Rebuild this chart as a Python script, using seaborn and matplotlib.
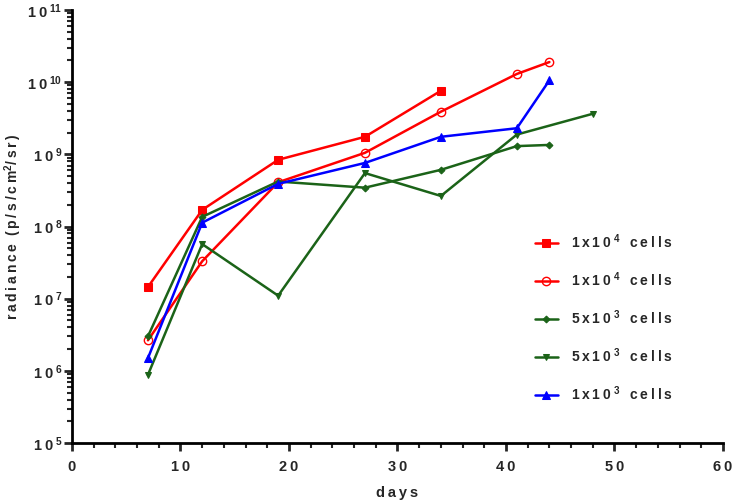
import matplotlib
matplotlib.use("Agg")
import matplotlib.pyplot as plt
import seaborn as sns
import numpy as np
import pandas as pd
from matplotlib.ticker import FixedLocator, LogLocator, NullFormatter, MultipleLocator

# ---- data ----
days_a = [7, 12, 19, 27, 34]
sq_1e4 = [1.45e7, 1.7e8, 8.4e8, 1.75e9, 7.6e9]

days_b = [7, 12, 19, 27, 34, 41, 44]
circ_1e4 = [2.65e6, 3.3e7, 4.1e8, 1.05e9, 3.9e9, 1.3e10, 1.9e10]

days_c = [7, 12, 19, 27, 34, 41, 44]
dia_5e3 = [3.0e6, 1.36e8, 4.2e8, 3.45e8, 6.1e8, 1.3e9, 1.35e9]

days_d = [7, 12, 19, 27, 34, 41, 48]
tri_5e3 = [8.8e5, 5.7e7, 1.1e7, 5.5e8, 2.65e8, 1.88e9, 3.65e9]

days_e = [7, 12, 19, 27, 34, 41, 44]
up_1e3 = [1.5e6, 1.13e8, 3.9e8, 7.6e8, 1.75e9, 2.3e9, 1.06e10]

labels = ["1x10^4 cells", "1x10^4 cells", "5x10^3 cells", "5x10^3 cells", "1x10^3 cells"]
y_ticks = [1e5, 1e6, 1e7, 1e8, 1e9, 1e10, 1e11]
x_ticks = [0, 10, 20, 30, 40, 50, 60]

sns.set_style("ticks")
plt.rcParams['font.family'] = ['Liberation Sans', 'DejaVu Sans']
plt.rcParams['mathtext.fontset'] = 'custom'
plt.rcParams['mathtext.rm'] = 'Liberation Sans:bold'
plt.rcParams['mathtext.bf'] = 'Liberation Sans:bold'
plt.rcParams['mathtext.it'] = 'Liberation Sans:bold'

TS = "\u2009"
FS = 10.5

def spaced(s):
    return TS.join(list(s))

def leg_label(s):
    base, rest = s.split("^")
    exp, tail = rest.split(" ", 1)
    return spaced(base) + TS + "${}^{" + exp + "}$" + "  " + TS + spaced(tail)

fig = plt.figure(figsize=(7.35, 5.03), dpi=100)
ax = fig.add_axes([72/735, 1 - 443/503, (723 - 72)/735, (443 - 10)/503])

red = "#FF0000"
green = "#1B6318"
blue = "#0000FF"

series = [
    (days_a, sq_1e4, red, "s", dict(markersize=6)),
    (days_b, circ_1e4, red, "o", dict(markersize=6, markerfacecolor="none", markeredgewidth=1.0)),
    (days_c, dia_5e3, green, "D", dict(markersize=3.5)),
    (days_d, tri_5e3, green, "v", dict(markersize=5)),
    (days_e, up_1e3, blue, "^", dict(markersize=5.5)),
]

for (xs, ys, c, m, kw), lab in zip(series, labels):
    df = pd.DataFrame({"days": xs, "radiance": ys})
    sns.lineplot(data=df, x="days", y="radiance", ax=ax, color=c, marker=m,
                 linewidth=1.8, markeredgecolor=c, label=leg_label(lab), **kw)

ax.set_yscale("log")
ax.set_ylim(1e5, 1e11)
ax.set_xlim(0, 60)

ax.yaxis.set_major_locator(FixedLocator(y_ticks))
ax.yaxis.set_minor_locator(LogLocator(base=10, subs=np.arange(2, 10)))
ax.yaxis.set_minor_formatter(NullFormatter())
ax.set_yticklabels([spaced("10") + TS + "${}^{" + str(int(np.log10(v))) + "}$" for v in y_ticks])

ax.xaxis.set_major_locator(FixedLocator(x_ticks))
ax.xaxis.set_minor_locator(MultipleLocator(2))
ax.set_xticklabels([spaced(str(v)) for v in x_ticks])

for sp in ["top", "right"]:
    ax.spines[sp].set_visible(False)
for sp in ["left", "bottom"]:
    ax.spines[sp].set_linewidth(2)
    ax.spines[sp].set_color("black")

ax.tick_params(axis="both", which="major", length=6, width=2, labelsize=FS, direction="out")
ax.tick_params(axis="y", which="major", pad=1)
ax.tick_params(axis="x", which="major", pad=6)
ax.tick_params(axis="both", which="minor", length=3.5, width=1.5, direction="out")
for t in ax.get_xticklabels() + ax.get_yticklabels():
    t.set_fontweight("bold")

ax.set_xlabel(spaced("days"), fontsize=FS, fontweight="bold", labelpad=9)
ax.set_ylabel(spaced("radiance") + "  " + spaced("(p/s/cm") + "${}^{2}$" + spaced("/sr)"),
              fontsize=10, fontweight="bold")
ax.yaxis.set_label_coords((24 - 72) / 651, 0.5)

leg = ax.legend(loc="upper left", bbox_to_anchor=(450/651, 1 - (220 - 10)/433),
                frameon=False, handlelength=1.7, handletextpad=0.9,
                labelspacing=1.4, prop={"weight": "bold", "size": 10})

fig.savefig("out.png", dpi=100)
